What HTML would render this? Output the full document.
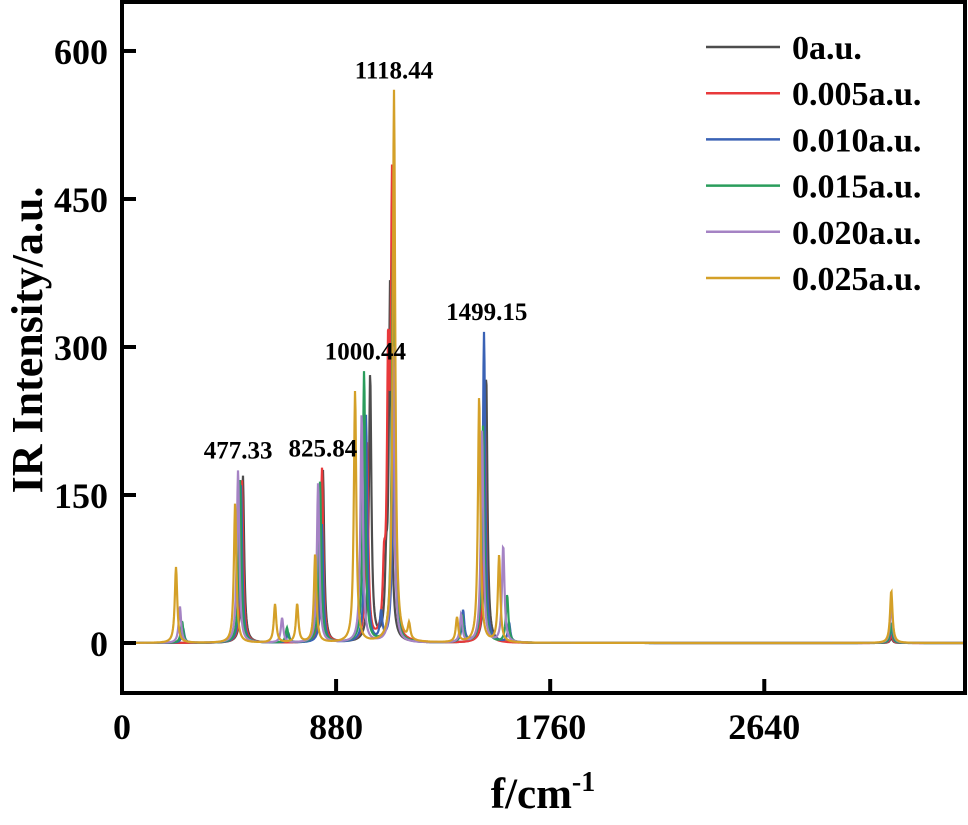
<!DOCTYPE html>
<html><head><meta charset="utf-8"><style>
html,body{margin:0;padding:0;background:#fff;}
svg{display:block;font-family:"Liberation Serif",serif;font-weight:bold;}
</style></head><body>
<svg id="chart" width="968" height="825" viewBox="0 0 968 825" xmlns="http://www.w3.org/2000/svg"></svg>
<script>
const seriesNames = ["0a.u.","0.005a.u.","0.010a.u.","0.015a.u.","0.020a.u.","0.025a.u."];
const seriesColors = ["#4d4d4d","#e8393b","#3a62b5","#2a9d5c","#a583c4","#d4a028"];
// peaks per series: [wavenumber, intensity]
const peaks0 = [[497,170],[826,175],[1020,272],[1086,62],[1102,360],[1497,272],[3162,5]];
const peaks005 = [[493,165],[822,177],[1007,200],[1077,58],[1094,260],[1110,450],[1492,215],[3162,8]];
const peaks010 = [[251,15],[489,160],[683,10],[822,120],[1003,230],[1065,28],[1118,300],[1402,32],[1488,315],[1591,20],[3162,15]];
const peaks015 = [[247,22],[485,165],[678,15],[814,163],[995,275],[1114,400],[1398,28],[1484,220],[1583,48],[3162,20]];
const peaks020 = [[238,37],[477,175],[658,25],[806,162],[985,232],[1114,300],[1394,28],[1480,215],[1567,98],[3162,40]];
const peaks025 = [[222,77],[465,142],[629,39],[720,39],[794,90],[958,255],[1118,560],[1180,16],[1377,25],[1468,250],[1550,88],[3162,53]];
const allPeaks = [peaks0,peaks005,peaks010,peaks015,peaks020,peaks025];
const xTicks = [0,880,1760,2640];
const yTicks = [0,150,300,450,600];
const annotations = [["1118.44",1118,560],["1000.44",1000.44,275],["1499.15",1499.15,315],["477.33",477.33,175],["825.84",825.84,177]];

const L=122,R=965,T=2,B=693;
const xMin=0,xMax=3465,yZero=643,yPer=0.9867;
const X=v=>L+(v-xMin)/(xMax-xMin)*(R-L);
const Y=v=>yZero-v*yPer;
const svg=document.getElementById('chart');
const NS="http://www.w3.org/2000/svg";
function mk(tag,attrs,parent){const e=document.createElementNS(NS,tag);for(const k in attrs)e.setAttribute(k,attrs[k]);(parent||svg).appendChild(e);return e;}

const clip=mk('clipPath',{id:'pc'});mk('rect',{x:L,y:T,width:R-L,height:B-T},clip);
const g=mk('g',{'clip-path':'url(#pc)'});
const gamma=6;
allPeaks.forEach((pk,si)=>{
  let d="";
  for(let px=L;px<=R;px+=0.5){
    const w=xMin+(px-L)/(R-L)*(xMax-xMin);
    let s=0;
    pk.forEach(p=>{const dx=(w-p[0])/gamma;s+=p[1]/(1+dx*dx);});
    d+=(d?"L":"M")+px.toFixed(1)+","+Y(s).toFixed(1);
  }
  const p=mk('path',{d:d,fill:'none',stroke:seriesColors[si],'stroke-width':2.2},g);
  
  
});

const frame=mk('rect',{x:L,y:T,width:R-L,height:B-T,fill:'none',stroke:'#000','stroke-width':4});



yTicks.forEach(v=>{
  const t=mk('line',{x1:L,x2:L+14,y1:Y(v),y2:Y(v),stroke:'#000','stroke-width':4});
  
  
  const tx=mk('text',{x:L-14,y:Y(v)+13,'text-anchor':'end','font-size':36});
  tx.textContent=v;
  
  
});
xTicks.forEach(v=>{
  const t=mk('line',{x1:X(v),x2:X(v),y1:B,y2:B-14,stroke:'#000','stroke-width':4});
  
  
  const tx=mk('text',{x:X(v),y:739,'text-anchor':'middle','font-size':36});
  tx.textContent=v;
  
  
});

annotations.forEach(a=>{
  const tx=mk('text',{x:X(a[1]),y:Y(a[2])-12,'text-anchor':'middle','font-size':25});
  tx.textContent=a[0];
  
  
});

seriesNames.forEach((n,i)=>{
  const y=47+i*46.2;
  const ln=mk('line',{x1:706,x2:780,y1:y,y2:y,stroke:seriesColors[i],'stroke-width':2.5});
  
  
  const tx=mk('text',{x:792,y:y+12,'font-size':34});
  tx.textContent=n;
  
  
});

const yt=mk('text',{x:0,y:0,transform:'translate(42,340) rotate(-90)','text-anchor':'middle','font-size':44});
yt.textContent='IR Intensity/a.u.';


const xt=mk('text',{x:543,y:808,'text-anchor':'middle','font-size':43});
xt.innerHTML='f/cm<tspan dy="-17" font-size="28">-1</tspan>';


</script>
</body></html>
